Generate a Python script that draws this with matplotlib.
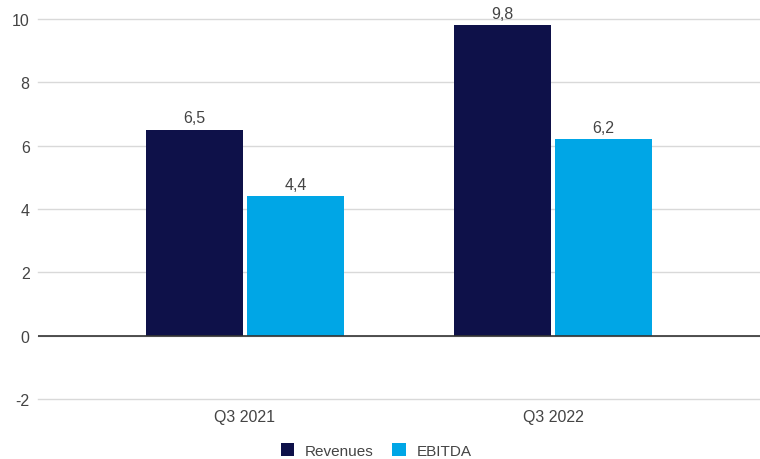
import matplotlib
matplotlib.use("Agg")
import matplotlib.pyplot as plt
import numpy as np

categories = ["Q3 2021", "Q3 2022"]
revenues = [6.5, 9.8]
ebitda = [4.4, 6.2]
series_names = ["Revenues", "EBITDA"]
yticks = [-2, 0, 2, 4, 6, 8, 10]

navy = "#0e1149"
sky = "#00a6e6"
text_col = "#444444"
fs = 11.5

plt.rcParams["font.family"] = ["Liberation Sans", "DejaVu Sans"]

fig = plt.figure(figsize=(7.6, 4.6), dpi=100)
ax = fig.add_axes([0.05, 0.1304, 0.95, 0.826])

x = np.arange(len(categories))
w = 0.315
gap = 0.0065
b1 = ax.bar(x - w / 2 - gap, revenues, w, color=navy, label=series_names[0], zorder=3)
b2 = ax.bar(x + w / 2 + gap, ebitda, w, color=sky, label=series_names[1], zorder=3)

for bars, vals in ((b1, revenues), (b2, ebitda)):
    for rect, v in zip(bars, vals):
        ax.text(rect.get_x() + rect.get_width() / 2, v + 0.15, f"{v:.1f}".replace(".", ","),
                ha="center", va="bottom", fontsize=fs, color=text_col)

ax.set_ylim(-2, 10)
ax.set_xlim(-0.672, 1.672)
ax.set_yticks(yticks)
ax.set_yticklabels([str(t) for t in yticks])
ax.set_xticks(x)
ax.set_xticklabels(categories)
ax.tick_params(axis="both", length=0, labelsize=fs, colors=text_col)
ax.tick_params(axis="x", pad=7)
ax.tick_params(axis="y", pad=6)

ax.grid(axis="y", color="#d9d9d9", linewidth=1, zorder=0)
for gl in ax.get_ygridlines():
    gl.set_clip_on(False)
ax.axhline(0, color="#333333", linewidth=1.2, zorder=4)
for s in ax.spines.values():
    s.set_visible(False)

fig.legend(handles=[b1, b2], labels=series_names, loc="center",
           bbox_to_anchor=(0.495, 0.018), ncol=2, frameon=False, fontsize=11,
           handlelength=0.9, handleheight=0.9, columnspacing=1.2, handletextpad=0.7,
           labelcolor=text_col, borderpad=0)

fig.savefig("out.png", dpi=100, facecolor="white")
